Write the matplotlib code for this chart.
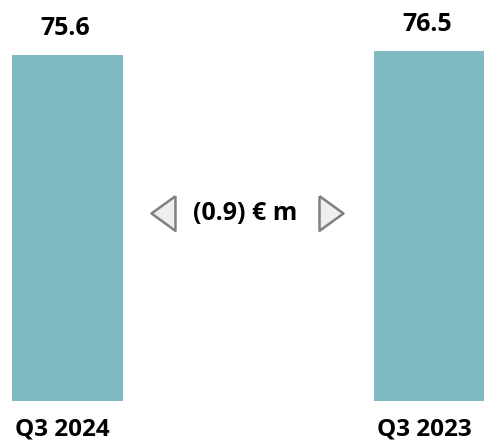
import numpy as np
import matplotlib.pyplot as plt
from matplotlib.path import Path

plt.rcParams['font.family'] = ['Open Sans', 'DejaVu Sans']

# Dane
quarters = ['Q3 2024', 'Q3 2023']
revenue = [75.6, 76.5]
delta_label = '(0.9) € m'

bar_color = '#7fb9c2'

fig = plt.figure(figsize=(4.84, 4.41), dpi=100)
ax = fig.add_axes([0, 0, 1, 1])

x = np.arange(len(quarters))
bars = ax.bar(x, revenue, width=0.307, color=bar_color)

# wartości nad słupkami
for xi, v in zip(x, revenue):
    ax.annotate(f'{v:.1f}', (xi, v), xytext=(-2, 19), textcoords='offset points',
                ha='center', va='center', fontsize=18, fontweight='bold')

# etykiety kwartałów pod słupkami
for xi, q in zip(x, quarters):
    ax.annotate(q, (xi, 0), xytext=(-4, -20.5), textcoords='offset points',
                ha='center', va='center', fontsize=17.5, fontweight='bold')

# różnica pomiędzy kwartałami ze strzałkami
mid = x.mean()
y_mid = np.mean(revenue) * 0.54
ax.text(mid - 0.01, y_mid, delta_label, ha='center', va='center',
        fontsize=18, fontweight='bold')

left_tri = Path([(0.69, 1), (-0.69, 0), (0.69, -1), (0.69, 1)])
right_tri = Path([(-0.69, 1), (0.69, 0), (-0.69, -1), (-0.69, 1)])
ax.plot(mid - 0.236, y_mid, marker=left_tri, markersize=25,
        markerfacecolor='#eeeeee', markeredgecolor='#808080', markeredgewidth=1.8)
ax.plot(mid + 0.228, y_mid, marker=right_tri, markersize=25,
        markerfacecolor='#eeeeee', markeredgecolor='#808080', markeredgewidth=1.8)

ax.set_xlim(-0.1865, 1.1506)
ax.set_ylim(-8.74, 87.65)
ax.axis('off')

fig.savefig('out.png', dpi=100)
